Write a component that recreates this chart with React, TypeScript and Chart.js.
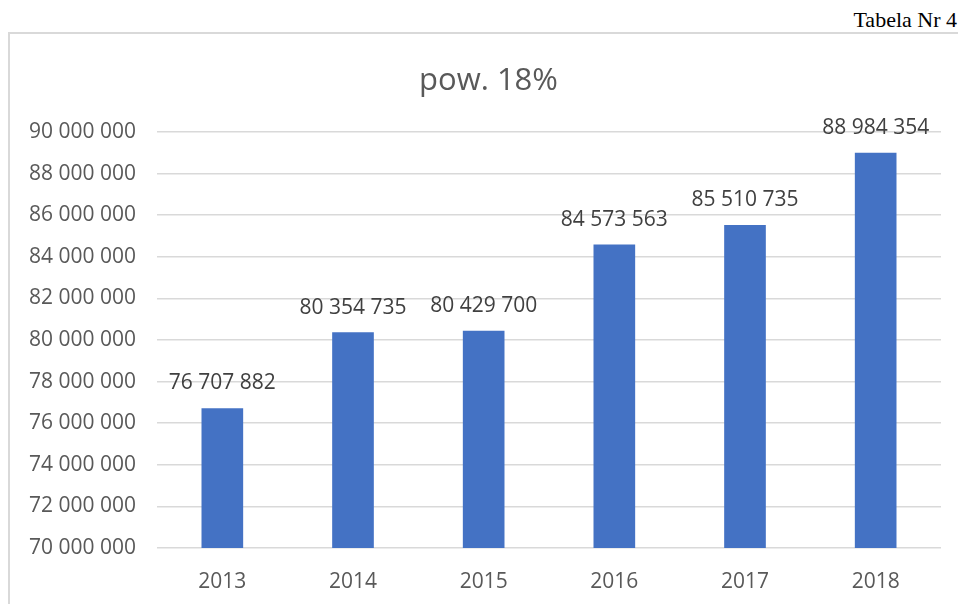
import React, { useEffect, useRef } from "react";
import { Chart, registerables } from "chart.js";

Chart.register(...registerables);

const categories = ["2013", "2014", "2015", "2016", "2017", "2018"];
const values = [76707882, 80354735, 80429700, 84573563, 85510735, 88984354];
const yMin = 70000000;
const yMax = 90000000;
const yStep = 2000000;
const chartTitle = "pow. 18%";
const tableLabel = "Tabela Nr 4";

const FONT = "'Open Sans', 'Noto Sans', sans-serif";

const fmt = (n: number) =>
  Math.round(n)
    .toString()
    .replace(/\B(?=(\d{3})+(?!\d))/g, " ");

const titlePlugin = {
  id: "customTitle",
  afterDraw(chart: any) {
    const ctx = chart.ctx;
    ctx.save();
    ctx.font = `31px ${FONT}`;
    ctx.fillStyle = "#595959";
    ctx.textAlign = "center";
    ctx.textBaseline = "alphabetic";
    ctx.fillText(chartTitle, 488.5, 90);
    ctx.restore();
  },
};

const dataLabelPlugin = {
  id: "dataLabels",
  afterDatasetsDraw(chart: any) {
    const ctx = chart.ctx;
    const meta = chart.getDatasetMeta(0);
    const data = chart.data.datasets[0].data;
    ctx.save();
    ctx.font = `21px ${FONT}`;
    ctx.fillStyle = "#404040";
    ctx.textAlign = "center";
    ctx.textBaseline = "middle";
    meta.data.forEach((bar: any, i: number) => {
      ctx.fillText(fmt(data[i]), bar.x, bar.y - 25);
    });
    ctx.restore();
  },
};

function BarChart() {
  const ref = useRef<HTMLCanvasElement | null>(null);
  useEffect(() => {
    if (!ref.current) return;
    const chart = new Chart(ref.current, {
      type: "bar",
      data: {
        labels: categories,
        datasets: [
          {
            data: values,
            backgroundColor: "#4472C4",
            borderWidth: 0,
            barThickness: 41,
          },
        ],
      },
      options: {
        animation: false,
        responsive: false,
        maintainAspectRatio: false,
        layout: { padding: { top: 132, right: 17, left: 0, bottom: 0 } },
        plugins: {
          legend: { display: false },
          title: { display: false },
          tooltip: { enabled: false },
        },
        scales: {
          x: {
            grid: { display: false },
            border: { display: false },
            ticks: {
              font: { family: FONT, size: 21 },
              color: "#595959",
              padding: 13,
            },
            afterFit(scale: any) {
              scale.height = 56;
            },
          },
          y: {
            min: yMin,
            max: yMax,
            grid: { color: "#d9d9d9", lineWidth: 1.5, drawTicks: false },
            border: { display: false },
            ticks: {
              stepSize: yStep,
              font: { family: FONT, size: 21 },
              color: "#595959",
              padding: 21,
              callback: (v: any) => fmt(Number(v)),
            },
            afterFit(scale: any) {
              scale.width = 157;
            },
          },
        },
      },
      plugins: [titlePlugin, dataLabelPlugin],
    });
    return () => chart.destroy();
  }, []);
  return (
    <canvas
      ref={ref}
      width={958}
      height={604}
      style={{ position: "absolute", left: 0, top: 0, width: 958, height: 604 }}
    />
  );
}

export default function App() {
  return (
    <div
      style={{
        position: "fixed",
        left: 0,
        top: 0,
        width: 958,
        height: 604,
        overflow: "hidden",
        background: "#ffffff",
      }}
    >
      <div
        style={{
          position: "absolute",
          left: 8,
          top: 32,
          width: 1000,
          height: 1000,
          borderLeft: "2px solid #d9d9d9",
          borderTop: "2px solid #d9d9d9",
        }}
      />
      <div
        style={{
          position: "absolute",
          right: 1,
          top: 7,
          fontFamily: "'Liberation Serif', 'DejaVu Serif', serif",
          fontSize: 22,
          lineHeight: "25px",
          color: "#000",
          whiteSpace: "nowrap",
        }}
      >
        {tableLabel}
      </div>
      <BarChart />
    </div>
  );
}
